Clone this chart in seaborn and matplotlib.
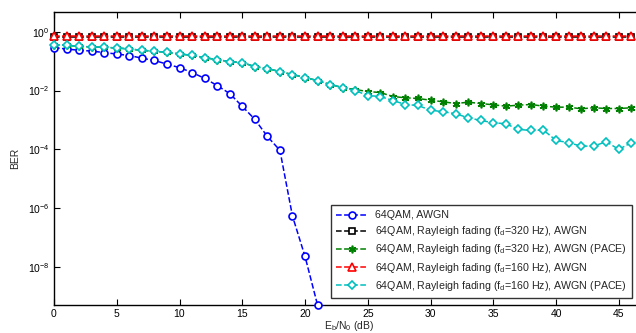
import numpy as np
import pandas as pd
import matplotlib
matplotlib.use("Agg")
import matplotlib.pyplot as plt
import seaborn as sns

# Eb/N0 grids (dB)
snr_awgn = list(range(0, 22))
snr_fade = list(range(0, 47))

# 64QAM in AWGN only
ber_awgn = [0.288, 0.257, 0.234, 0.219, 0.195, 0.174, 0.155, 0.126, 0.105, 0.079,
            0.060, 0.041, 0.026, 0.0148, 0.0079, 0.0029, 0.00105, 2.75e-4, 9.3e-5,
            5.4e-7, 2.3e-8, 5.1e-10]

# Rayleigh fading, no channel estimation (flat near 0.5-0.7)
ber_320 = [0.66] * 47
ber_160 = [0.72] * 47

# shared part of the PACE curves (0..23 dB)
pace_common = [0.362, 0.343, 0.318, 0.303, 0.294, 0.280, 0.259, 0.232, 0.215, 0.199,
               0.175, 0.157, 0.131, 0.112, 0.0962, 0.0889, 0.0651, 0.0557, 0.0441,
               0.0349, 0.0276, 0.0218, 0.0160, 0.0126]
ber_320_pace = pace_common + [0.0108, 0.00925, 0.00855, 0.00626, 0.00566, 0.00536,
                              0.00469, 0.00414, 0.00362, 0.00401, 0.00362, 0.00327,
                              0.00294, 0.00318, 0.00335, 0.00294, 0.00272, 0.00272,
                              0.00240, 0.00259, 0.00245, 0.00245, 0.00259]
ber_160_pace = pace_common + [0.0100, 0.00677, 0.00626, 0.00458, 0.00335, 0.00310,
                              0.00215, 0.00190, 0.00162, 0.00119, 9.62e-4, 8.04e-4,
                              7.43e-4, 4.76e-4, 4.41e-4, 4.51e-4, 2.02e-4, 1.69e-4,
                              1.29e-4, 1.29e-4, 1.82e-4, 1.00e-4, 1.69e-4]

labels = [
    '64QAM, AWGN',
    '64QAM, Rayleigh fading (f$_d$=320 Hz), AWGN',
    '64QAM, Rayleigh fading (f$_d$=320 Hz), AWGN (PACE)',
    '64QAM, Rayleigh fading (f$_d$=160 Hz), AWGN',
    '64QAM, Rayleigh fading (f$_d$=160 Hz), AWGN (PACE)',
]

sns.set_style('ticks')
plt.rcParams['font.family'] = ['Liberation Sans', 'DejaVu Sans']
plt.rcParams['mathtext.default'] = 'regular'
plt.rcParams['font.size'] = 7.7

fig = plt.figure(figsize=(6.36, 3.33), dpi=100)
ax = fig.add_axes([0.0849, 0.0841, 0.9275, 0.8808])

series = [
    (snr_awgn, ber_awgn, labels[0], 'blue', 'o', 'white'),
    (snr_fade, ber_320, labels[1], 'black', 's', 'white'),
    (snr_fade, ber_320_pace, labels[2], 'green', (6, 2, 0), 'green'),
    (snr_fade, ber_160, labels[3], 'red', '^', 'white'),
    (snr_fade, ber_160_pace, labels[4], '#00BFBF', 'D', 'white'),
]

sizes = {'o': 5, 's': 5, '^': 5.5, 'D': 4.2}
for x, y, lab, col, mk, fc in series:
    df = pd.DataFrame({'snr': x, 'ber': y})
    sns.lineplot(df, x='snr', y='ber', ax=ax, color=col, linestyle='--',
                 linewidth=1.1, marker=mk, markersize=sizes.get(mk, 5.5),
                 markerfacecolor=fc, markeredgecolor=col, markeredgewidth=1.2,
                 label=lab, clip_on=False, zorder=3)

ax.set_yscale('log')
ax.set_xlim(0, 47)
ax.set_ylim(10 ** -9.29, 10 ** 0.68)
ax.set_xticks(np.arange(0, 50, 5))
ax.set_yticks([1e0, 1e-2, 1e-4, 1e-6, 1e-8])
ax.yaxis.set_minor_locator(matplotlib.ticker.NullLocator())
ax.tick_params(direction='in', length=4, width=0.8, top=True, right=False,
               labelsize=7.5, pad=3, colors='black')
for s in ax.spines.values():
    s.set_linewidth(1.0)
    s.set_color('black')

ax.set_xlabel('E$_b$/N$_0$ (dB)', fontsize=7.5, labelpad=0)
ax.set_ylabel('BER', fontsize=7.5, labelpad=6)

leg = ax.legend(loc='lower left', bbox_to_anchor=(0.4695, 0.024), fontsize=7.7,
                frameon=True, fancybox=False, handlelength=3.0,
                borderpad=0.5, labelspacing=0.38, handletextpad=0.6,
                borderaxespad=0)
leg.get_frame().set_edgecolor('black')
leg.get_frame().set_linewidth(1.0)

fig.savefig('out.png', dpi=100)
